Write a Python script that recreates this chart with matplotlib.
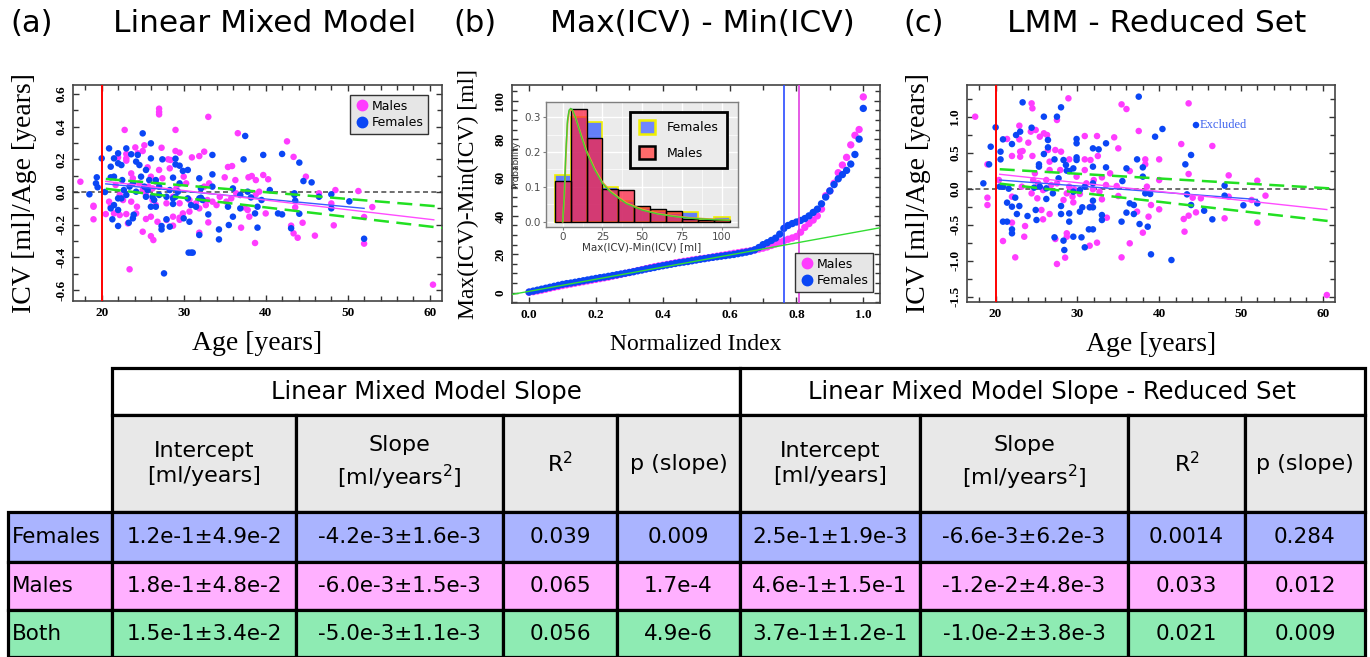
import numpy as np
import matplotlib
matplotlib.use("Agg")
import matplotlib.pyplot as plt
from matplotlib.patches import Rectangle, Patch
from matplotlib.lines import Line2D
from matplotlib.ticker import MultipleLocator, FormatStrFormatter

plt.rcParams['axes.unicode_minus'] = False
plt.rcParams['mathtext.fontset'] = 'dejavusans'

# ---------------- data: panel (a) ----------------
males_a = [(17.4,0.063),(19.0,-0.084),(19.0,-0.09),(19.0,-0.167),(22.8,0.38),(27.0,0.51),(27.0,0.49),(27.0,0.475),(33.0,0.46),(36.6,0.36),(29.0,0.38),(42.6,0.31),(43.4,0.215),(44.9,0.094),(23.4,-0.473),(26.3,-0.294),(26.0,-0.27),(25.0,-0.243),(31.9,-0.249),(33.0,-0.186),(37.0,-0.218),(38.7,-0.312),(43.4,-0.253),(43.9,-0.28),(44.5,-0.188),(46.0,-0.267),(46.5,-0.008),(48.3,-0.204),(48.0,-0.07),(48.5,0.012),(51.3,0.006),(52.0,-0.316),(52.0,-0.153),(53.0,-0.092),(60.4,-0.567),(43.1,-0.206),(43.6,-0.094),(35.4,0.153),(35.9,0.159),(35.0,0.09),(36.3,0.073),(37.9,0.09),(38.3,0.098),(38.8,0.073),(39.7,0.104),(40.3,0.078),(40.0,-0.131),(37.8,-0.11),(38.0,-0.151),(37.4,-0.094),(38.8,-0.014),(39.2,0.002),(31.9,0.22),(31.0,0.212),(32.5,0.247),(29.5,0.241),(29.0,0.251),(27.3,0.271),(25.2,0.286),(24.1,0.273),(25.0,0.251),(23.0,0.233),(23.0,0.206),(23.0,0.192),(22.0,0.212),(24.4,0.237),(28.4,0.196),(28.1,0.2),(27.4,0.084),(27.0,0.135),(28.3,0.145),(25.6,0.151),(30.0,0.094),(30.3,0.053),(29.5,-0.069),(29.9,-0.131),(29.5,-0.157),(29.5,-0.17),(28.7,-0.206),(27.9,-0.171),(26.0,-0.151),(25.4,-0.165),(24.2,-0.131),(23.2,-0.192),(23.0,-0.135),(21.5,-0.131),(22.2,-0.141),(20.5,-0.135),(21.1,-0.09),(20.9,-0.059),(23.6,0.114),(23.8,0.084),(24.6,0.053),(25.0,0.012),(25.4,-0.018),(26.2,-0.049),(26.6,-0.08),(27.9,-0.069),(28.7,-0.029),(29.1,0.022),(30.7,-0.049),(31.5,-0.069),(31.9,-0.1),(32.7,-0.08),(33.5,-0.059),(34.4,-0.029),(34.0,-0.08),(35.2,-0.059),(35.8,-0.039),(36.4,-0.008),(32.5,0.033),(33.1,0.053),(32.9,-0.049),(26.6,0.063),(26.0,0.094),(21.7,0.043),(22.2,-0.018),(22.6,-0.049),(23.6,-0.059),(24.3,-0.09),(26.8,-0.182),(28.7,-0.151),(30.7,-0.12),(25.7,0.033),(26.2,0.022)]
females_a = [(18.5,-0.014),(19.3,0.053),(19.4,0.09),(19.5,0.029),(20.0,0.206),(20.4,0.0),(20.9,0.267),(21.1,0.155),(21.1,0.09),(21.1,-0.1),(21.5,0.206),(22.0,0.237),(22.0,0.176),(21.5,0.094),(21.5,-0.08),(21.3,-0.167),(22.0,-0.208),(22.0,-0.039),(22.0,-0.11),(22.4,-0.039),(22.4,0.165),(23.0,0.267),(22.5,0.073),(23.3,-0.188),(23.8,-0.161),(23.9,-0.139),(23.6,0.231),(24.4,0.227),(24.6,0.165),(24.2,0.186),(25.0,0.359),(24.8,0.094),(25.4,-0.029),(26.0,0.298),(26.0,0.206),(25.8,0.073),(26.0,-0.09),(26.6,-0.09),(26.4,-0.049),(27.0,0.033),(27.3,-0.229),(27.3,-0.208),(27.4,0.2),(27.6,-0.498),(27.9,-0.167),(28.3,-0.212),(28.7,-0.073),(28.7,0.088),(29.0,0.204),(29.0,0.169),(29.5,0.161),(29.0,-0.029),(29.5,0.053),(29.9,0.129),(30.0,-0.161),(30.5,0.135),(30.6,-0.371),(30.9,-0.371),(31.1,-0.371),(30.7,-0.182),(30.9,-0.08),(31.5,-0.09),(31.9,0.084),(32.1,-0.035),(31.9,-0.263),(32.1,0.022),(33.0,-0.137),(33.5,0.227),(33.5,0.108),(33.5,0.033),(34.3,-0.229),(34.3,-0.29),(35.5,-0.202),(35.4,-0.09),(36.0,0.022),(36.0,-0.151),(36.9,-0.018),(37.3,0.2),(37.5,0.343),(37.8,0.002),(36.9,-0.1),(38.2,-0.033),(38.7,-0.131),(39.0,-0.09),(39.0,-0.218),(39.5,-0.049),(39.7,0.227),(40.5,0.012),(41.5,-0.131),(42.0,-0.137),(42.0,0.233),(43.1,-0.222),(43.5,-0.018),(43.6,-0.053),(44.1,0.18),(44.1,-0.133),(44.6,0.067),(45.6,0.059),(46.5,-0.029),(48.0,-0.014),(48.0,-0.1),(50.2,-0.057),(52.0,-0.286),(43.5,-0.008),(31.9,-0.039),(32.3,-0.049),(27.0,-0.018),(27.9,-0.029),(28.3,0.012),(28.7,-0.039),(25.4,0.135),(25.2,0.033),(25.6,0.012),(24.2,0.002),(23.8,0.053),(26.2,-0.029),(26.6,0.073),(30.5,-0.039),(29.3,0.002),(23.0,-0.018),(22.7,0.012),(23.4,0.033)]
fit_a_females = [(20.5, 0.05), (52.0, -0.10)]
fit_a_males = [(20.5, 0.065), (60.5, -0.17)]
ci_a_upper = [(20.5, 0.08), (61.5, -0.09)]
ci_a_lower = [(20.5, 0.02), (61.5, -0.22)]

# ---------------- data: panel (b) ----------------
sorted_females = [0.3,0.8,1.3,1.8,2.3,2.8,3.3,3.8,4.3,4.7,5.0,5.4,5.8,6.2,6.6,7.0,7.4,7.8,8.1,8.5,
                  8.9,9.3,9.7,10.1,10.5,10.9,11.4,11.8,12.3,12.7,13.1,13.6,14.0,14.4,14.8,15.2,15.6,15.9,16.2,16.6,
                  17.0,17.4,17.7,18.1,18.4,18.7,19.0,19.3,19.6,19.9,20.3,20.7,21.1,21.6,22.3,23.5,25.0,26.0,27.2,28.4,
                  30.5,33.5,35.0,36.0,36.8,37.6,38.6,40.0,41.8,43.5,46.3,49.8,53.0,56.3,59.3,61.5,63.7,67.0,72.0,80.0,96.0]
sorted_males = [0.2,0.5,0.9,1.3,1.8,2.3,2.8,3.2,3.7,4.1,4.5,4.9,5.3,5.7,6.1,6.5,6.9,7.3,7.7,8.1,
                8.6,9.0,9.5,10.0,10.5,11.0,11.5,12.0,12.5,13.0,13.5,13.9,14.3,14.7,15.1,15.5,15.9,16.3,16.6,17.0,
                17.3,17.6,17.9,18.2,18.6,19.0,19.4,19.7,20.1,20.5,20.8,21.2,21.5,21.8,22.2,22.7,23.2,23.8,24.6,25.4,
                26.3,27.0,27.8,28.5,29.3,31.5,34.0,36.0,37.8,40.0,43.5,50.5,53.0,57.0,62.5,66.5,70.5,77.0,82.0,85.0,102.0]
cutoff_females = 0.762
cutoff_males = 0.808
linear_trend = [(-0.05, -0.9), (1.05, 33.8)]

# inset histogram
bin_centers = [0, 10, 20, 30, 40, 50, 60, 70, 80, 90, 100]
hist_females = [0.135, 0.300, 0.285, 0.100, 0.060, 0.040, 0.030, 0.025, 0.028, 0.005, 0.013]
hist_males = [0.118, 0.322, 0.240, 0.095, 0.090, 0.045, 0.037, 0.030, 0.007, 0.004, 0.005]
fit_x = [0, 1, 2, 3, 4, 5, 6, 8, 10, 12, 15, 20, 25, 30, 35, 40, 50, 60, 70, 80, 90, 100, 105]
fit_green = [0.0, 0.08, 0.20, 0.29, 0.32, 0.325, 0.322, 0.30, 0.27, 0.24, 0.20, 0.15, 0.11, 0.085, 0.068, 0.052, 0.033, 0.022, 0.015, 0.010, 0.007, 0.005, 0.004]
fit_orange = [0.0, 0.07, 0.19, 0.28, 0.315, 0.322, 0.320, 0.30, 0.272, 0.243, 0.203, 0.153, 0.113, 0.088, 0.07, 0.054, 0.035, 0.023, 0.016, 0.011, 0.008, 0.006, 0.005]

# ---------------- data: panel (c) ----------------
males_c = [(17.5,1.0),(19.0,0.338),(19.0,-0.125),(19.0,-0.227),(20.4,0.12),(20.9,-0.727),(21.4,0.69),(22.0,0.454),(22.0,-0.111),(22.0,-0.472),(22.4,-0.954),(22.9,0.875),(22.9,0.685),(23.0,0.514),(23.0,0.444),(23.3,0.523),(23.5,-0.667),(23.6,-0.519),(24.0,0.639),(24.4,1.185),(24.5,1.116),(24.3,0.792),(24.5,0.454),(24.9,0.815),(24.8,0.213),(25.1,-0.134),(25.4,0.722),(25.6,-0.296),(25.8,-0.426),(25.9,0.769),(26.3,0.745),(26.4,0.537),(26.6,0.375),(26.6,0.259),(26.2,0.12),(26.8,0.051),(26.6,-0.352),(27.3,0.537),(27.5,0.954),(27.5,-1.046),(27.3,-0.699),(28.0,0.514),(27.9,0.259),(28.3,-0.157),(28.5,-0.958),(28.7,-0.62),(28.7,-0.667),(28.9,1.255),(29.0,0.407),(29.0,0.028),(29.4,-0.111),(29.5,-0.19),(29.6,-0.009),(29.9,0.167),(30.3,-0.074),(30.9,0.731),(30.9,0.407),(30.9,0.259),(31.5,-0.792),(31.6,0.398),(31.7,-0.25),(31.9,-0.009),(32.0,0.12),(32.4,0.731),(32.5,0.454),(32.4,-0.75),(33.0,0.157),(33.0,-0.148),(33.6,-0.403),(34.0,0.213),(34.5,0.713),(34.8,0.037),(35.0,0.56),(35.0,-0.102),(35.4,1.171),(36.0,1.106),(35.4,-0.954),(36.4,-0.759),(36.4,0.245),(37.5,0.801),(37.3,-0.319),(38.0,-0.611),(38.3,0.407),(38.3,0.338),(38.5,0.028),(38.7,-0.389),(39.0,-0.227),(40.0,0.407),(40.0,0.12),(40.0,-0.287),(42.7,0.62),(43.1,-0.597),(43.0,-0.421),(43.6,1.185),(43.6,0.204),(43.6,-0.375),(44.1,-0.125),(44.5,-0.329),(45.1,-0.134),(46.5,0.593),(48.0,-0.412),(48.5,0.185),(48.5,-0.111),(51.3,-0.157),(52.0,0.111),(52.0,-0.472),(53.0,-0.097),(60.5,-1.477),(24.6,0.12),(25.2,0.074),(25.8,-0.019),(27.5,0.074),(28.7,-0.065),(31.1,0.074),(32.7,-0.042),(33.5,0.051),(23.2,0.028),(24.4,-0.065)]
females_c = [(18.5,0.074),(19.2,0.338),(19.4,0.583),(20.0,0.852),(20.6,0.514),(20.6,0.407),(20.9,0.685),(20.9,0.028),(20.9,-0.458),(21.4,-0.458),(21.4,-0.194),(21.6,0.0),(22.0,0.62),(22.0,-0.25),(22.0,-0.565),(22.0,-0.62),(22.4,-0.125),(22.5,0.745),(22.6,-0.352),(22.9,-0.241),(23.0,0.792),(23.3,1.199),(23.9,-0.38),(24.4,0.847),(24.7,0.014),(24.9,-0.296),(25.0,-0.435),(25.3,0.338),(25.3,0.306),(25.9,1.0),(25.9,0.481),(26.2,0.005),(26.2,-0.143),(26.4,0.676),(26.4,0.574),(27.2,0.407),(27.2,-0.676),(27.5,1.0),(28.0,1.13),(28.0,-0.241),(28.0,-0.352),(28.3,0.398),(28.3,-0.722),(28.4,-0.852),(28.6,0.329),(28.7,0.25),(29.0,0.245),(29.0,-0.343),(29.0,-0.458),(29.5,0.282),(29.5,-0.667),(29.9,0.69),(29.9,0.63),(29.9,0.435),(29.9,0.398),(30.3,-0.019),(30.3,-0.319),(30.5,-0.676),(30.6,-0.259),(30.9,-0.815),(31.4,-0.565),(31.5,-0.259),(31.9,0.56),(31.9,0.306),(31.9,0.074),(31.9,-0.167),(31.9,-0.259),(31.9,-0.565),(32.6,0.546),(33.0,-0.366),(33.0,-0.435),(33.5,0.63),(33.5,0.296),(35.5,0.106),(35.4,-0.458),(36.0,0.282),(36.0,-0.333),(36.4,-0.204),(36.9,-0.227),(36.9,-0.352),(37.3,0.407),(37.5,1.278),(37.6,-0.491),(38.0,0.296),(38.0,0.167),(38.3,-0.065),(38.6,-0.528),(38.9,-0.074),(39.0,-0.912),(39.5,0.722),(40.4,0.829),(41.5,-0.991),(43.2,0.338),(43.4,-0.079),(43.9,0.468),(43.9,-0.227),(45.5,-0.306),(46.5,-0.426),(48.0,0.042),(48.0,-0.097),(50.3,-0.231),(52.0,-0.204),(27.7,0.144),(27.0,-0.065),(25.4,0.028),(20.5,0.028),(29.5,-0.042),(30.9,0.028)]
excluded_c = (44.5, 0.884)
fit_c_females = [(20.5, 0.12), (52.0, -0.15)]
fit_c_males = [(20.5, 0.20), (60.5, -0.29)]
ci_c_upper = [(20.5, 0.27), (61.5, 0.0)]
ci_c_lower = [(20.5, 0.07), (61.5, -0.46)]

# ---------------- data: table ----------------
group_names = ["Females", "Males", "Both"]
block_titles = ["Linear Mixed Model Slope", "Linear Mixed Model Slope - Reduced Set"]
column_headers = ["Intercept\n[ml/years]", "Slope\n[ml/years$^2$]", "R$^2$", "p (slope)"]
lmm_intercept = ["1.2e-1±4.9e-2", "1.8e-1±4.8e-2", "1.5e-1±3.4e-2"]
lmm_slope = ["-4.2e-3±1.6e-3", "-6.0e-3±1.5e-3", "-5.0e-3±1.1e-3"]
lmm_r2 = ["0.039", "0.065", "0.056"]
lmm_p = ["0.009", "1.7e-4", "4.9e-6"]
red_intercept = ["2.5e-1±1.9e-3", "4.6e-1±1.5e-1", "3.7e-1±1.2e-1"]
red_slope = ["-6.6e-3±6.2e-3", "-1.2e-2±4.8e-3", "-1.0e-2±3.8e-3"]
red_r2 = ["0.0014", "0.033", "0.021"]
red_p = ["0.284", "0.012", "0.009"]

# ---------------- styling ----------------
W, H = 1370, 657
MAG = '#ff3cff'
BLU = '#0a46f5'
GRN = '#22e022'
SERIF = 'Liberation Serif'

fig = plt.figure(figsize=(W / 100, H / 100), dpi=100)


def px_axes(l, r, t, b):
    return fig.add_axes([l / W, 1 - b / H, (r - l) / W, (b - t) / H])


# table axes (pixel coordinates)
tab = fig.add_axes([0, 0, 1, 1])
tab.set_xlim(0, W)
tab.set_ylim(H, 0)
tab.axis('off')


def style_axes(ax, xmaj, xmin, ymaj, ymin, yfmt, xfmt):
    for s in ax.spines.values():
        s.set_color('#444444')
        s.set_linewidth(1.2)
    ax.xaxis.set_major_locator(MultipleLocator(xmaj))
    ax.xaxis.set_minor_locator(MultipleLocator(xmin))
    ax.yaxis.set_major_locator(MultipleLocator(ymaj))
    ax.yaxis.set_minor_locator(MultipleLocator(ymin))
    ax.yaxis.set_major_formatter(FormatStrFormatter(yfmt))
    ax.xaxis.set_major_formatter(FormatStrFormatter(xfmt))
    ax.tick_params(which='both', direction='in', top=True, right=True, color='#333333')
    ax.tick_params(which='major', length=4.5, width=1.0, pad=4)
    ax.tick_params(which='minor', length=3.5, width=1.0)
    ax.tick_params(axis='y', labelrotation=90)
    for lab in ax.get_xticklabels() + ax.get_yticklabels():
        lab.set_fontfamily(SERIF)
        lab.set_fontweight('bold')
        lab.set_fontsize(9.5)
    for lab in ax.get_yticklabels():
        lab.set_va('center')


def scatter_panel(ax, males, females, fitf, fitm, ciu, cil):
    mx, my = np.array(males).T
    fx, fy = np.array(females).T
    ax.scatter(mx, my, s=22, color=MAG, edgecolors='none', zorder=2)
    ax.scatter(fx, fy, s=22, color=BLU, edgecolors='none', zorder=2)
    ax.axvline(20, color='red', lw=1.4, zorder=3)
    ax.axhline(0, color='#555555', lw=1.2, dashes=(3, 2), zorder=1)
    for seg, c, lw in [(fitf, '#3a5cff', 1.0), (fitm, '#ff4cff', 1.0)]:
        xs, ys = np.array(seg).T
        ax.plot(xs, ys, color=c, lw=lw, zorder=4)
    for seg in (ciu, cil):
        xs, ys = np.array(seg).T
        ax.plot(xs, ys, color=GRN, lw=1.8, dashes=(6, 3), zorder=4)
    ax.set_xlim(16.5, 61.5)


# ---------------- panel (a) ----------------
axa = px_axes(73, 442, 85, 301)
scatter_panel(axa, males_a, females_a, fit_a_females, fit_a_males, ci_a_upper, ci_a_lower)
axa.set_ylim(-0.667, 0.655)
style_axes(axa, 10, 2, 0.2, 0.1, '%.1f', '%d')
axa.set_xlabel('Age [years]', fontfamily=SERIF, fontsize=20, labelpad=9)
axa.set_ylabel('ICV [ml]/Age [years]', fontfamily=SERIF, fontsize=20, labelpad=13)
h = [Line2D([], [], marker='o', ls='', color=MAG, markersize=7.5),
     Line2D([], [], marker='o', ls='', color=BLU, markersize=7.5)]
leg = axa.legend(h, ['Males', 'Females'], loc='upper right', bbox_to_anchor=(0.962, 0.952),
                 fancybox=False, framealpha=1, facecolor='#e6e6e6', edgecolor='#333333',
                 fontsize=9, handletextpad=0.2, borderpad=0.35, labelspacing=0.3,
                 handlelength=1.2, borderaxespad=0)
leg.get_frame().set_linewidth(1.0)

# ---------------- panel (b) ----------------
axb = px_axes(512, 880, 85, 303)
nf = np.linspace(0, 1, len(sorted_females))
nm = np.linspace(0, 1, len(sorted_males))
axb.scatter(nm, sorted_males, s=28, color=MAG, edgecolors='none', zorder=2)
axb.scatter(nf, sorted_females, s=28, color=BLU, edgecolors='none', zorder=2)
axb.axvline(cutoff_females, color='#2b4cff', lw=1.2, zorder=3)
axb.axvline(cutoff_males, color='#e040e0', lw=1.2, zorder=3)
tx, ty = np.array(linear_trend).T
axb.plot(tx, ty, color='#33dd33', lw=1.0, zorder=4)
axb.set_xlim(-0.051, 1.05)
axb.set_ylim(-5.4, 108.2)
style_axes(axb, 0.2, 0.1, 20, 5, '%d', '%.1f')
axb.set_xlabel('Normalized Index', fontfamily=SERIF, fontsize=17, labelpad=10)
axb.set_ylabel('Max(ICV)-Min(ICV) [ml]', fontfamily=SERIF, fontsize=17, labelpad=11)
legb = axb.legend(h, ['Males', 'Females'], loc='lower right', bbox_to_anchor=(0.982, 0.052),
                  fancybox=False, framealpha=1, facecolor='#e6e6e6', edgecolor='#333333',
                  fontsize=9, handletextpad=0.2, borderpad=0.35, labelspacing=0.3,
                  handlelength=1.2, borderaxespad=0)
legb.get_frame().set_linewidth(1.0)

# inset
ins = px_axes(546, 738, 102.5, 226.7)
ins.set_facecolor('#ebebeb')
ins.bar(bin_centers, hist_females, width=10, color='#2a52ff', alpha=0.7, zorder=2)
ins.bar(bin_centers, hist_females, width=10, fill=False, edgecolor='#f0f000', lw=1.2, zorder=2)
ins.bar(bin_centers, hist_males, width=10, color='#ff2040', alpha=0.72, zorder=3)
ins.bar(bin_centers, hist_males, width=10, fill=False, edgecolor='black', lw=1.0, zorder=3)
ins.plot(fit_x, fit_orange, color='#f0a030', lw=1.3, zorder=4)
ins.plot(fit_x, fit_green, color='#44cc33', lw=1.0, zorder=5)
ins.set_xlim(-10.5, 110.3)
ins.set_ylim(-0.0144, 0.342)
ins.set_xticks([0, 25, 50, 75, 100])
ins.set_yticks([0.0, 0.1, 0.2, 0.3])
ins.yaxis.set_major_formatter(FormatStrFormatter('%.1f'))
ins.xaxis.set_minor_locator(MultipleLocator(12.5))
ins.yaxis.set_minor_locator(MultipleLocator(0.05))
ins.grid(which='major', color='white', lw=1.0)
ins.grid(which='minor', color='white', lw=0.5)
ins.set_axisbelow(True)
for s in ins.spines.values():
    s.set_color('#7f7f7f')
    s.set_linewidth(1.0)
ins.tick_params(which='major', length=2, color='#7f7f7f', labelsize=7.5, labelcolor='#4d4d4d', pad=1.5)
ins.tick_params(which='minor', length=0)
ins.set_xlabel('Max(ICV)-Min(ICV) [ml]', fontsize=7.5, color='#333333', labelpad=0.5)
ins.set_ylabel('Probability', fontsize=6.5, color='#333333')
ins.yaxis.set_label_coords(-0.135, 0.5)
ih = [Patch(facecolor='#6f86ff', edgecolor='#f0f000', lw=1.8),
      Patch(facecolor='#ff6a6a', edgecolor='black', lw=1.8)]
legi = ins.legend(ih, ['Females', 'Males'], loc='upper right', bbox_to_anchor=(0.944, 0.926),
                  fancybox=False, framealpha=1, facecolor='#ebebeb', edgecolor='black',
                  fontsize=9, handlelength=1.3, handleheight=1.3, borderpad=0.7,
                  labelspacing=0.9, handletextpad=0.9, borderaxespad=0)
legi.get_frame().set_linewidth(2.0)
legi.set_zorder(10)

# ---------------- panel (c) ----------------
axc = px_axes(967, 1335, 85, 302)
scatter_panel(axc, males_c, females_c, fit_c_females, fit_c_males, ci_c_upper, ci_c_lower)
axc.scatter([excluded_c[0]], [excluded_c[1]], s=22, color=BLU, edgecolors='none', zorder=2)
axc.text(excluded_c[0] + 0.4, excluded_c[1], 'Excluded', fontfamily=SERIF, fontsize=9,
         color='#3f63ee', va='center', ha='left')
axc.set_ylim(-1.574, 1.44)
style_axes(axc, 10, 2, 0.5, 0.25, '%.1f', '%d')
axc.set_xlabel('Age [years]', fontfamily=SERIF, fontsize=20, labelpad=9)
axc.set_ylabel('ICV [ml]/Age [years]', fontfamily=SERIF, fontsize=20, labelpad=13)

# ---------------- titles ----------------
for lx, label, cx, title in [(10, '(a)', 265, 'Linear Mixed Model'),
                             (453, '(b)', 702, 'Max(ICV) - Min(ICV)'),
                             (903, '(c)', 1157, 'LMM - Reduced Set')]:
    fig.text(lx / W, 1 - 23 / H, label, fontsize=22, ha='left', va='center')
    fig.text(cx / W, 1 - 23 / H, title, fontsize=22.5, ha='center', va='center')

# ---------------- table ----------------
col_edges = [8, 112, 296, 503, 617, 740, 920, 1128, 1245, 1365]
row_edges = [368, 415, 512, 562, 610, 657]
row_colors = ['#aab4ff', '#ffb0ff', '#8eebb3']
LW = 2.3


def cell(x0, x1, y0, y1, fc, text=None, fs=15.5, ha='center', tx=None):
    tab.add_patch(Rectangle((x0, y0), x1 - x0, y1 - y0, facecolor=fc, edgecolor='black',
                            lw=LW, clip_on=False))
    if text is not None:
        xx = (x0 + x1) / 2 if tx is None else tx
        tab.text(xx, (y0 + y1) / 2, text, fontsize=fs, ha=ha, va='center',
                 linespacing=1.35)


# block headers
cell(col_edges[1], col_edges[5], row_edges[0], row_edges[1], 'white', block_titles[0], fs=17.5)
cell(col_edges[5], col_edges[9], row_edges[0], row_edges[1], 'white', block_titles[1], fs=17.5)
# column headers
for b in range(2):
    for j, hdr in enumerate(column_headers):
        c = 1 + 4 * b + j
        cell(col_edges[c], col_edges[c + 1], row_edges[1], row_edges[2], '#e8e8e8', hdr, fs=16)
# data rows
for i, g in enumerate(group_names):
    vals = [lmm_intercept[i], lmm_slope[i], lmm_r2[i], lmm_p[i],
            red_intercept[i], red_slope[i], red_r2[i], red_p[i]]
    y0, y1 = row_edges[2 + i], row_edges[3 + i]
    cell(col_edges[0], col_edges[1], y0, y1, row_colors[i], g, fs=15.5, ha='left', tx=12)
    for j, v in enumerate(vals):
        cell(col_edges[1 + j], col_edges[2 + j], y0, y1, row_colors[i], v, fs=15.5)

fig.savefig('out.png', dpi=100)
